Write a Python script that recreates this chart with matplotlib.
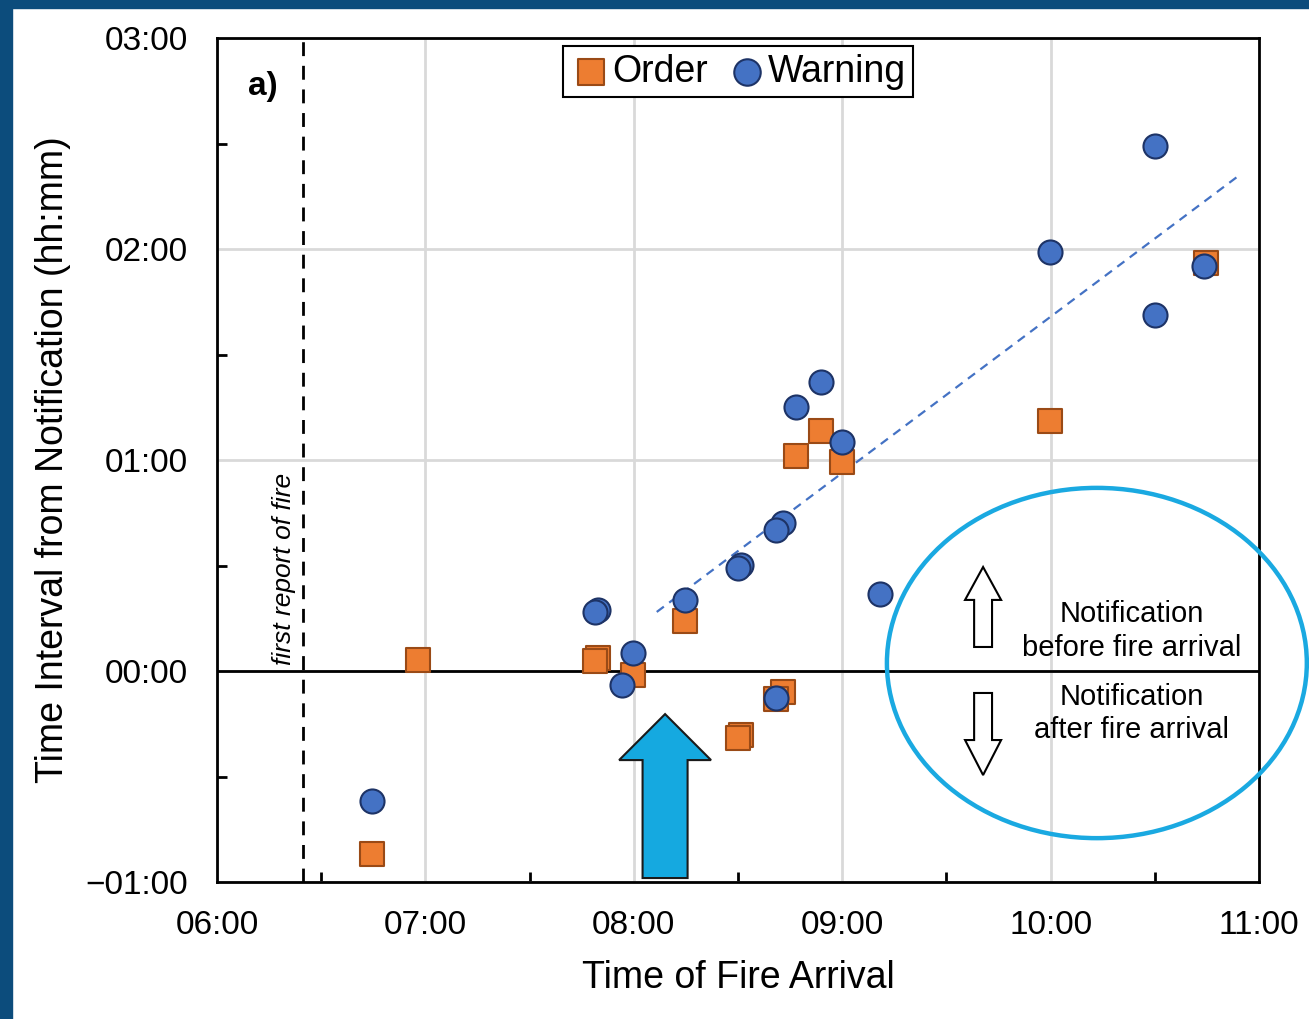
import matplotlib
matplotlib.use("Agg")
import matplotlib.pyplot as plt
from matplotlib.patches import Ellipse, FancyArrow, Rectangle
from matplotlib.ticker import FuncFormatter, MultipleLocator

plt.rcParams['font.family'] = ['Liberation Sans', 'DejaVu Sans']

# data (hours of day / hours of lead time)
order_x = [6.744, 6.965, 7.828, 7.814, 7.996, 8.246, 8.514, 8.500, 8.716, 8.680, 8.778, 8.898, 8.999, 9.997, 10.746]
order_y = [-0.867, 0.052, 0.062, 0.047, -0.019, 0.237, -0.303, -0.318, -0.100, -0.133, 1.019, 1.137, 0.990, 1.185, 1.934]

warning_x = [6.744, 7.828, 7.814, 7.996, 7.943, 8.246, 8.514, 8.500, 8.716, 8.680, 8.680, 8.778, 8.898, 8.999, 9.180, 9.997, 10.500, 10.500, 10.736]
warning_y = [-0.616, 0.289, 0.280, 0.085, -0.066, 0.336, 0.502, 0.488, 0.701, 0.668, -0.128, 1.251, 1.370, 1.085, 0.365, 1.986, 2.488, 1.687, 1.919]

trend_x = [8.11, 10.894]
trend_y = [0.28, 2.341]

first_report = 6.413

x_ticks = [6, 7, 8, 9, 10, 11]
y_ticks = [-1, 0, 1, 2, 3]


def hhmm(v, pos=None):
    sign = '\u2212' if v < -1e-9 else ''
    v = abs(v)
    h = int(v + 1e-9)
    m = int(round((v - h) * 60))
    return f'{sign}{h:02d}:{m:02d}'


fig = plt.figure(figsize=(13.09, 10.19), dpi=100)
ax = fig.add_axes([0.1658, 0.1344, 0.796, 0.8283])

# frame strips of the source slide
fig.patches.append(Rectangle((0, 0), 0.0095, 1, transform=fig.transFigure, color='#0c4c7c', zorder=0))
fig.patches.append(Rectangle((0, 0.992), 1, 0.008, transform=fig.transFigure, color='#0c4c7c', zorder=0))

ax.set_xlim(6, 11)
ax.set_ylim(-1, 3)
ax.set_xticks(x_ticks)
ax.set_yticks(y_ticks)
ax.xaxis.set_minor_locator(MultipleLocator(0.5))
ax.yaxis.set_minor_locator(MultipleLocator(0.5))
ax.xaxis.set_major_formatter(FuncFormatter(hhmm))
ax.yaxis.set_major_formatter(FuncFormatter(hhmm))
ax.tick_params(which='major', length=0, labelsize=24, pad=20)
ax.tick_params(axis='y', which='major', pad=21)
ax.tick_params(which='minor', direction='in', length=7, width=2)
ax.grid(True, which='major', color='#d9d9d9', linewidth=2, zorder=0)
for s in ax.spines.values():
    s.set_linewidth(2)

ax.axhline(0, color='black', linewidth=2, zorder=2)
ax.axvline(first_report, color='black', linewidth=2, linestyle=(0, (5, 3.5)), zorder=2)
ax.text(first_report - 0.035, 0.03, 'first report of fire', rotation=90, style='italic',
        fontsize=19, ha='right', va='bottom')

ax.plot(trend_x, trend_y, color='#4472c4', linewidth=1.6, linestyle=(0, (4, 3)), zorder=3)

ax.scatter(order_x, order_y, marker='s', s=300, color='#ed7d31', edgecolor='#9a4a16',
           linewidth=1.5, zorder=4, label='Order')
ax.scatter(warning_x, warning_y, marker='o', s=300, color='#4472c4', edgecolor='#1d3366',
           linewidth=1.5, zorder=5, label='Warning')

ax.text(0.03, 0.942, 'a)', transform=ax.transAxes, fontsize=24, fontweight='bold', va='center')

leg = ax.legend(loc='upper center', bbox_to_anchor=(0.5, 0.999), ncol=2, fontsize=27,
                frameon=True, fancybox=False, edgecolor='black', framealpha=1,
                handletextpad=0.0, columnspacing=0.5, borderpad=0.2, handlelength=1.1,
                borderaxespad=0.2, markerscale=1.1)
leg.get_frame().set_linewidth(1.5)

# cyan block arrow
ax.add_patch(FancyArrow(8.15, -0.981, 0, 0.777, width=0.216, head_width=0.441, head_length=0.218,
                        length_includes_head=True, facecolor='#15a9e0', edgecolor='#1a1a1a',
                        linewidth=1.5, zorder=6, clip_on=False))

# hollow arrows
ax.add_patch(FancyArrow(9.676, 0.114, 0, 0.379, width=0.086, head_width=0.173, head_length=0.156,
                        length_includes_head=True, facecolor='white', edgecolor='black',
                        linewidth=1.5, zorder=6))
ax.add_patch(FancyArrow(9.676, -0.104, 0, -0.389, width=0.086, head_width=0.173, head_length=0.166,
                        length_includes_head=True, facecolor='white', edgecolor='black',
                        linewidth=1.5, zorder=6))

ax.text(10.39, 0.045, 'Notification\nbefore fire arrival', fontsize=21, ha='center', va='bottom',
        linespacing=1.25, zorder=7)
ax.text(10.39, -0.055, 'Notification\nafter fire arrival', fontsize=21, ha='center', va='top',
        linespacing=1.25, zorder=7)

ax.add_patch(Ellipse((10.222, 0.038), 2.015, 1.66, fill=False, edgecolor='#1aa9e1',
                     linewidth=3.2, zorder=8, clip_on=False))

ax.set_xlabel('Time of Fire Arrival', fontsize=27, labelpad=14)
ax.set_ylabel('Time Interval from Notification (hh:mm)', fontsize=27, labelpad=10)

fig.savefig('out.png', dpi=100)
